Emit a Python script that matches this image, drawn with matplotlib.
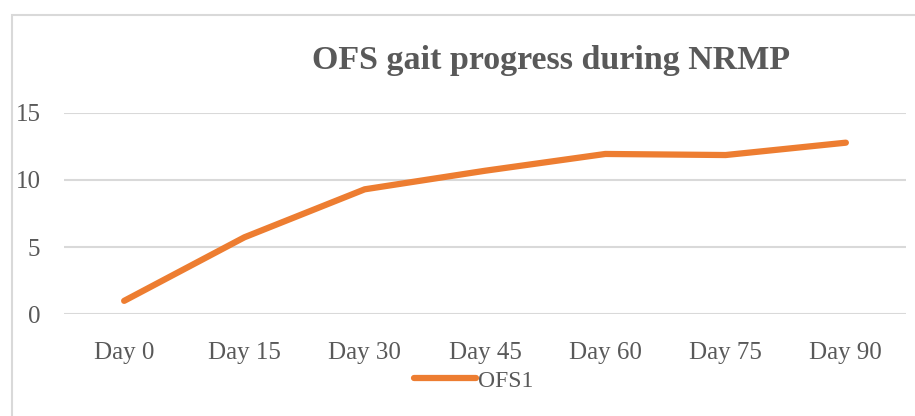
import matplotlib.pyplot as plt
from matplotlib.patches import Rectangle

days = ['Day 0', 'Day 15', 'Day 30', 'Day 45', 'Day 60', 'Day 75', 'Day 90']
ofs1 = [1.0, 5.73, 9.3, 10.68, 11.93, 11.85, 12.77]
y_ticks = [0, 5, 10, 15]

W, H = 915, 416
text_col = '#595959'
grid_col = '#D9D9D9'
line_col = '#ED7D31'

plt.rcParams['font.family'] = ['Liberation Serif', 'DejaVu Serif']

fig = plt.figure(figsize=(W / 100, H / 100), dpi=100)

# outer chart border (clipped at right and bottom in the reference)
fig.patches.append(Rectangle((12 / W, -0.1), 1.2, 1 - 15 / H + 0.1,
                             transform=fig.transFigure, fill=False,
                             edgecolor=grid_col, lw=1.5))

# axes: x 64..906, y (0 at 314.3, 15 at 112.7)
y0_px, y15_px = 314.3, 112.7
ax = fig.add_axes([64 / W, 1 - y0_px / H, (906 - 64) / W, (y0_px - y15_px) / H])
ax.set_ylim(0, 15)
ax.set_xlim(-0.5, len(days) - 0.5)

x = list(range(len(days)))
ax.plot(x, ofs1, color=line_col, lw=4.5, solid_capstyle='round',
        solid_joinstyle='round', label='OFS1', clip_on=False)

for s in ax.spines.values():
    s.set_visible(False)
ax.set_yticks(y_ticks)
ax.yaxis.grid(True, color=grid_col, lw=1.5)
ax.set_axisbelow(True)
ax.set_xticks(x)
ax.set_xticklabels(days)
ax.tick_params(axis='both', length=0, labelsize=18, labelcolor=text_col)
ax.tick_params(axis='x', pad=20)
ax.tick_params(axis='y', pad=17)

fig.text(551 / W, 1 - 61 / H, 'OFS gait progress during NRMP', ha='center',
         va='center', fontsize=24.5, fontweight='bold', color=text_col)

leg = fig.legend(loc='center', bbox_to_anchor=(474 / W, 1 - 381 / H),
                 frameon=False, fontsize=17, handlelength=2.6,
                 handletextpad=0.1, labelcolor=text_col)

fig.savefig('out.png', dpi=100)
